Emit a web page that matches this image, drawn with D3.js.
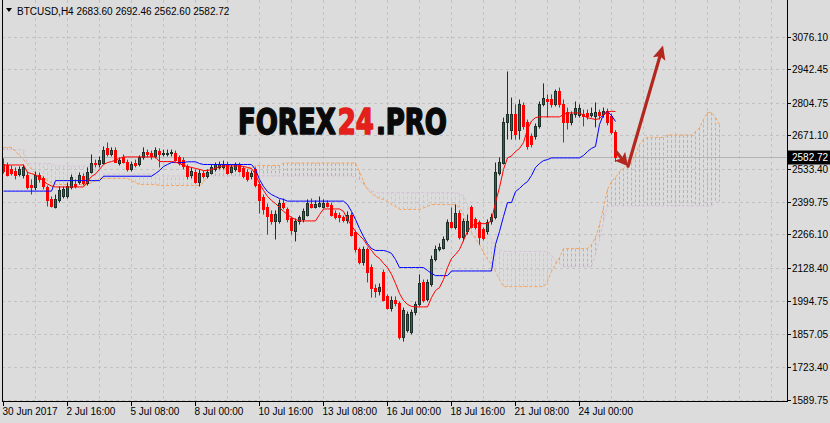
<!DOCTYPE html>
<html><head><meta charset="utf-8">
<script src="https://cdn.jsdelivr.net/npm/d3@7"></script>
<style>html,body{margin:0;padding:0;background:#dcdcdc;}svg{display:block;}</style>
</head><body>
<svg id="chart" width="830" height="423"></svg>
<script>
// ---------- data (BTCUSD, H4) ----------
const symbolTitle = "BTCUSD,H4";
const lastBar = [2683.60, 2692.46, 2562.60, 2582.72];
const lastPrice = 2582.72;
const timeLabels = ["30 Jun 2017","2 Jul 16:00","5 Jul 08:00","8 Jul 00:00","10 Jul 16:00","13 Jul 08:00","16 Jul 00:00","18 Jul 16:00","21 Jul 08:00","24 Jul 00:00"];
const timeLabelBars = [0,16,32,48,64,80,96,112,128,144];
const priceTicks = [3076.10,2942.45,2804.75,2671.10,2533.40,2399.75,2266.10,2128.40,1994.75,1857.05,1723.40,1589.75];
const watermarkParts = ["FOREX", "24", ".PRO"];

const open = [
2556,2548,2532,2527,2515,2507,2511,2470,2458,2507,
2495,2458,2409,2380,2405,2425,2425,2458,2474,2482,
2503,2478,2523,2560,2552,2560,2618,2597,2613,2560,
2581,2564,2532,2560,2552,2581,2605,2601,2585,2609,
2593,2597,2601,2601,2581,2572,2544,2507,2523,2482,
2519,2503,2519,2532,2540,2540,2556,2523,2532,2552,
2536,2523,2503,2532,2474,2417,2380,2351,2319,2319,
2396,2368,2331,2278,2319,2327,2347,2392,2380,2384,
2380,2396,2388,2355,2347,2335,2323,2347,2274,2204,
2151,2204,2134,2048,2032,2110,2012,1966,1999,1983,
1844,1876,1868,1946,1979,2069,2003,2061,2163,2208,
2212,2245,2315,2298,2355,2257,2278,2376,2327,2315,
2286,2278,2319,2335,2519,2560,2728,2695,2757,2695,
2794,2724,2667,2667,2708,2798,2822,2822,2798,2851,
2798,2765,2724,2757,2753,2757,2761,2753,2749,2765,
2757,2773,2749,2683.60];
const high = [
2577,2560,2548,2540,2544,2552,2523,2491,2523,2519,
2503,2466,2421,2429,2462,2462,2478,2511,2491,2519,
2515,2540,2593,2572,2585,2626,2642,2622,2622,2581,
2593,2572,2564,2572,2589,2622,2613,2609,2622,2618,
2613,2613,2613,2609,2589,2581,2552,2540,2532,2532,
2527,2532,2552,2560,2564,2568,2564,2552,2560,2560,
2544,2532,2527,2540,2482,2429,2392,2364,2364,2409,
2413,2376,2339,2331,2343,2372,2409,2413,2405,2421,
2409,2405,2396,2364,2355,2343,2360,2355,2282,2212,
2216,2212,2143,2061,2065,2122,2020,2012,2012,1991,
1966,1950,1958,1991,2102,2081,2081,2179,2220,2229,
2257,2327,2376,2388,2364,2331,2347,2384,2335,2323,
2294,2327,2351,2560,2581,2744,2933,2826,2798,2818,
2806,2736,2679,2720,2810,2884,2839,2839,2859,2867,
2818,2785,2769,2810,2798,2777,2777,2785,2806,2777,
2785,2781,2761,2692.46];
const low = [
2515,2503,2507,2491,2503,2495,2450,2429,2446,2478,
2450,2380,2376,2372,2396,2413,2413,2450,2454,2470,
2466,2466,2515,2540,2540,2552,2585,2585,2560,2548,
2556,2523,2523,2540,2544,2572,2581,2572,2577,2540,
2585,2585,2585,2564,2548,2532,2491,2495,2474,2462,
2495,2495,2511,2523,2532,2532,2511,2515,2523,2519,
2495,2482,2491,2458,2351,2347,2265,2306,2245,2310,
2368,2315,2265,2237,2306,2315,2339,2372,2372,2376,
2372,2376,2339,2327,2315,2315,2310,2257,2192,2143,
2138,2069,2007,2007,2016,1991,1958,1950,1971,1835,
1827,1864,1856,1934,1971,1987,1991,2052,2155,2196,
2204,2237,2290,2286,2245,2237,2265,2290,2286,2224,
2241,2265,2306,2327,2507,2552,2654,2654,2654,2654,
2695,2613,2622,2654,2699,2790,2744,2785,2790,2785,
2642,2695,2712,2744,2744,2708,2736,2744,2704,2736,
2744,2712,2675,2562.60];
const close = [
2527,2511,2519,2511,2532,2540,2458,2458,2511,2491,
2462,2405,2384,2409,2446,2450,2466,2499,2466,2507,
2478,2523,2560,2552,2572,2613,2593,2613,2564,2572,
2564,2532,2556,2548,2581,2605,2593,2585,2613,2593,
2601,2601,2605,2572,2560,2544,2503,2527,2482,2519,
2503,2523,2540,2552,2552,2556,2519,2540,2552,2527,
2503,2491,2519,2470,2405,2368,2343,2319,2351,2396,
2376,2327,2282,2319,2335,2360,2396,2380,2392,2396,
2396,2384,2347,2339,2335,2323,2347,2265,2204,2151,
2204,2110,2048,2032,2052,1999,1966,1999,1983,1844,
1958,1938,1946,1979,2065,1999,2069,2167,2208,2216,
2245,2315,2298,2355,2257,2319,2319,2298,2298,2257,
2253,2315,2339,2523,2564,2728,2757,2757,2675,2798,
2708,2626,2634,2708,2798,2826,2814,2798,2851,2798,
2728,2724,2757,2785,2785,2749,2749,2761,2765,2753,
2773,2728,2687,2582.72];

// Ichimoku lines
const tenkan = [
2550,2550,2550,2550,2550,2550,2519,2515,2509,2499,
2484,2472,2464,2460,2460,2460,2460,2460,2460,2460,
2460,2482,2503,2513,2532,2552,2560,2564,2570,2577,
2583,2583,2583,2583,2583,2583,2583,2583,2583,2564,
2564,2564,2564,2562,2556,2548,2544,2540,2536,2532,
2527,2527,2532,2536,2544,2546,2546,2546,2546,2546,
2544,2540,2536,2511,2474,2446,2421,2405,2392,2376,
2360,2347,2335,2327,2321,2321,2321,2321,2321,2347,
2370,2370,2370,2370,2370,2360,2327,2302,2278,2261,
2245,2220,2200,2179,2167,2147,2130,2102,2065,2024,
1995,1979,1971,1969,1969,1969,1969,2007,2036,2048,
2081,2130,2167,2184,2204,2241,2278,2298,2310,2310,
2310,2310,2323,2396,2458,2532,2579,2587,2605,2618,
2642,2695,2730,2744,2747,2747,2747,2747,2747,2747,
2757,2763,2763,2763,2763,2753,2743,2740,2736,2740,
2757,2766,2770,2769];
const kijun = [
2443,2443,2443,2443,2443,2443,2443,2443,2443,2443,
2443,2443,2443,2486,2486,2486,2486,2486,2486,2486,
2486,2486,2486,2486,2486,2504,2504,2504,2504,2504,
2504,2504,2504,2504,2504,2504,2504,2504,2515,2527,
2544,2552,2560,2560,2560,2560,2563,2563,2563,2556,
2552,2552,2552,2552,2552,2552,2552,2552,2552,2552,
2552,2552,2552,2531,2491,2462,2441,2429,2421,2413,
2409,2402,2402,2402,2402,2402,2402,2402,2402,2402,
2402,2402,2402,2402,2402,2402,2388,2360,2327,2290,
2257,2228,2208,2200,2200,2200,2196,2188,2163,2130,
2130,2130,2130,2130,2130,2130,2118,2106,2097,2097,
2097,2097,2116,2116,2116,2116,2116,2116,2116,2116,
2116,2116,2116,2224,2278,2339,2396,2396,2441,2454,
2470,2482,2507,2540,2556,2568,2572,2579,2579,2579,
2579,2579,2579,2579,2579,2589,2605,2618,2626,2716,
2757,2769,2753,2728];
// Senkou spans, already shifted 26 bars forward (bars 0..179)
const spanA = [
2622,2622,2622,2605,2589,2572,2552,2532,2515,2503,
2495,2486,2478,2470,2470,2470,2470,2470,2470,2470,
2470,2470,2478,2484,2495,2495,2495,2495,2495,2495,
2495,2495,2486,2478,2470,2470,2470,2470,2470,2466,
2466,2466,2466,2466,2466,2466,2466,2466,2466,2466,
2478,2507,2527,2536,2536,2536,2536,2536,2536,2536,
2536,2536,2536,2548,2548,2548,2548,2548,2548,2548,
2558,2558,2558,2558,2558,2558,2558,2558,2558,2558,
2558,2558,2558,2558,2558,2558,2558,2558,2558,2523,
2482,2450,2433,2421,2413,2409,2401,2388,2380,2368,
2368,2368,2368,2368,2368,2374,2380,2388,2388,2388,
2388,2388,2388,2388,2376,2347,2302,2274,2249,2224,
2192,2163,2143,2114,2081,2052,2052,2052,2052,2052,
2052,2052,2052,2052,2052,2052,2073,2114,2143,2171,
2208,2208,2208,2208,2208,2208,2208,2224,2253,2306,
2376,2450,2482,2499,2523,2536,2544,2560,2593,2634,
2654,2663,2663,2663,2663,2663,2673,2673,2673,2673,
2673,2673,2673,2687,2703,2736,2765,2765,2744,2716];
const spanB = [
2613,2613,2613,2613,2613,2613,2556,2556,2556,2556,
2556,2556,2556,2546,2546,2546,2546,2546,2546,2546,
2546,2546,2546,2546,2546,2513,2513,2513,2513,2513,
2513,2513,2513,2513,2513,2513,2513,2513,2513,2505,
2505,2505,2505,2505,2505,2505,2505,2505,2505,2505,
2505,2505,2505,2505,2505,2505,2505,2505,2505,2505,
2505,2505,2505,2505,2505,2505,2505,2505,2505,2505,
2505,2505,2505,2505,2505,2505,2505,2505,2505,2505,
2505,2505,2505,2505,2505,2505,2505,2505,2499,2486,
2470,2454,2445,2437,2437,2437,2437,2437,2437,2437,
2437,2437,2437,2437,2437,2437,2437,2437,2437,2437,
2437,2437,2437,2437,2433,2425,2388,2347,2306,2278,
2274,2269,2245,2220,2204,2196,2196,2196,2196,2196,
2196,2196,2196,2196,2196,2196,2196,2179,2163,2147,
2134,2134,2134,2134,2134,2134,2134,2134,2184,2245,
2319,2380,2382,2382,2382,2382,2382,2382,2382,2382,
2382,2382,2382,2382,2382,2382,2382,2382,2382,2382,
2382,2382,2382,2382,2382,2382,2382,2382,2396,2401];

// forecast arrows (bar index, price)
const arrowDown = [[153.25, 2605], [156.25, 2545]];
const arrowUp = [[156.25, 2545], [165, 3039]];

// ---------- drawing ----------
const svg = d3.select("#chart");
const L = 2, R = 787, T = 0, B = 401;
const x = d3.scaleLinear().domain([-0.25, 196]).range([L, R]);
const y = d3.scaleLinear().domain([1589.75, 3076.10]).range([399.5, 36.5]);
const FONT = "'Liberation Sans', Arial, sans-serif";

svg.append("rect").attr("width", 830).attr("height", 423).attr("fill", "#dcdcdc");
svg.append("defs").append("clipPath").attr("id", "clip")
  .append("rect").attr("x", L + 1).attr("y", T).attr("width", R - L - 1).attr("height", B - T);

const g = svg.append("g").attr("clip-path", "url(#clip)");

// grid
const gridColor = "#c2c2c2";
priceTicks.forEach(t => {
  const yy = Math.round(y(t)) + 0.5;
  g.append("line").attr("x1", L).attr("x2", R).attr("y1", yy).attr("y2", yy)
    .attr("stroke", gridColor).attr("stroke-dasharray", "3,3");
});
for (let b = 8; x(b) < R; b += 8) {
  const xx = Math.round(x(b)) + 0.5;
  g.append("line").attr("x1", xx).attr("x2", xx).attr("y1", T).attr("y2", B)
    .attr("stroke", gridColor).attr("stroke-dasharray", "3,3");
}

// current price line
const yLast = Math.round(y(lastPrice)) + 0.5;
g.append("line").attr("x1", L).attr("x2", R).attr("y1", yLast).attr("y2", yLast)
  .attr("stroke", "#b4b4b4");

// cloud
const orange = "#f4a460", thistle = "#d8bfd8";
const cloudIdx = d3.range(spanA.length);
g.append("g").selectAll("line").data(cloudIdx).join("line")
  .attr("x1", i => Math.round(x(i)) + 0.5).attr("x2", i => Math.round(x(i)) + 0.5)
  .attr("y1", i => y(spanA[i])).attr("y2", i => y(spanB[i]))
  .attr("stroke", i => spanA[i] >= spanB[i] ? orange : thistle)
  .attr("stroke-dasharray", "3,2");
const line = d3.line().x((d, i) => Math.round(x(i)) + 0.5).y(d => y(d));
g.append("path").attr("d", line(spanB)).attr("fill", "none").attr("stroke", thistle).attr("stroke-dasharray", "3,2");
g.append("path").attr("d", line(spanA)).attr("fill", "none").attr("stroke", orange).attr("stroke-dasharray", "3,2");

// candles
const bars = d3.range(open.length);
const bull = i => close[i] >= open[i];
const cg = g.append("g");
cg.selectAll("line").data(bars).join("line")
  .attr("x1", i => Math.round(x(i)) + 0.5).attr("x2", i => Math.round(x(i)) + 0.5)
  .attr("y1", i => y(high[i])).attr("y2", i => y(low[i]))
  .attr("stroke", i => bull(i) ? "#1c3029" : "#ff0000");
cg.selectAll("rect").data(bars).join("rect")
  .attr("x", i => Math.round(x(i)) - 0.5)
  .attr("width", 2)
  .attr("y", i => Math.round(y(Math.max(open[i], close[i]))) + 0.5)
  .attr("height", i => Math.max(1, Math.round(y(Math.min(open[i], close[i]))) - Math.round(y(Math.max(open[i], close[i])))))
  .attr("fill", i => bull(i) ? "#2f6550" : "#ff0000")
  .attr("stroke", i => bull(i) ? "#1c3029" : "#ff0000");

// tenkan / kijun
g.append("path").attr("d", line(kijun)).attr("fill", "none").attr("stroke", "#0000ff");
g.append("path").attr("d", line(tenkan)).attr("fill", "none").attr("stroke", "#ff0000");

// watermark: fitted to x 238..447 by shrinking the font width-wise and stretching vertically
const wmC = ["#0a0a0a", "#e3201b", "#0a0a0a"];
const wmBase = 35, wmWidth = 209;
const wmG = svg.append("g");
const probe = watermarkParts.map(s => wmG.append("text")
  .attr("font-family", "'DejaVu Sans', Verdana, sans-serif").attr("font-weight", "bold")
  .attr("font-size", wmBase).text(s));
const natTotal = d3.sum(probe, t => t.node().getComputedTextLength());
probe.forEach(t => t.remove());
const fs = wmBase * (wmWidth - 4) / natTotal;
wmG.attr("transform", `translate(238,134) scale(1,${wmBase / fs})`);
let cx = 0;
watermarkParts.forEach((s, k) => {
  const t = wmG.append("text").attr("x", cx).attr("y", 0)
    .attr("font-family", "'DejaVu Sans', Verdana, sans-serif").attr("font-weight", "bold")
    .attr("font-size", fs)
    .attr("fill", wmC[k]).attr("stroke", wmC[k]).attr("stroke-width", 1.3).attr("stroke-linejoin", "round")
    .text(s);
  cx += t.node().getComputedTextLength() + 2;
});

// arrows
function arrow(pts, headLen, headHalf) {
  const [x0, y0] = [x(pts[0][0]), y(pts[0][1])];
  const [x1, y1] = [x(pts[1][0]), y(pts[1][1])];
  const dx = x1 - x0, dy = y1 - y0, len = Math.hypot(dx, dy);
  const ux = dx / len, uy = dy / len;
  const bx = x1 - ux * headLen, by = y1 - uy * headLen;
  svg.append("line").attr("x1", x0).attr("y1", y0).attr("x2", bx + ux * 2).attr("y2", by + uy * 2)
    .attr("stroke", "#b3271e").attr("stroke-width", 3.2).attr("stroke-linecap", "round");
  svg.append("path")
    .attr("d", `M${x1},${y1}L${bx - uy * headHalf},${by + ux * headHalf}L${bx + ux * 3},${by + uy * 3}L${bx + uy * headHalf},${by - ux * headHalf}Z`)
    .attr("fill", "#b3271e");
}
arrow(arrowDown, 13, 7);
arrow(arrowUp, 14, 6.5);

// frame
svg.append("line").attr("x1", L + 0.5).attr("x2", L + 0.5).attr("y1", T).attr("y2", B + 1).attr("stroke", "#000");
svg.append("line").attr("x1", R + 0.5).attr("x2", R + 0.5).attr("y1", T).attr("y2", B + 1).attr("stroke", "#000");
svg.append("line").attr("x1", L).attr("x2", R + 1).attr("y1", B + 0.5).attr("y2", B + 0.5).attr("stroke", "#000");

// right price axis
priceTicks.forEach(t => {
  const yy = Math.round(y(t)) + 0.5;
  svg.append("line").attr("x1", R).attr("x2", R + 4).attr("y1", yy).attr("y2", yy).attr("stroke", "#000");
  svg.append("text").attr("x", 792).attr("y", yy + 3.5).attr("font-family", FONT).attr("font-size", 10)
    .attr("fill", "#000").text(t.toFixed(2));
});
svg.append("rect").attr("x", 788).attr("y", yLast - 7).attr("width", 42).attr("height", 14).attr("fill", "#000");
svg.append("text").attr("x", 792).attr("y", yLast + 3.5).attr("font-family", FONT).attr("font-size", 10)
  .attr("fill", "#fff").text(lastPrice.toFixed(2));

// time axis
timeLabels.forEach((lab, k) => {
  const xx = Math.round(x(timeLabelBars[k])) + 0.5;
  svg.append("line").attr("x1", xx).attr("x2", xx).attr("y1", B).attr("y2", B + 5).attr("stroke", "#000");
  svg.append("text").attr("x", xx - 1).attr("y", 415).attr("font-family", FONT).attr("font-size", 10)
    .attr("fill", "#000").text(lab);
});

// title
svg.append("path").attr("d", "M6,8L12,8L9,12Z").attr("fill", "#000");
svg.append("text").attr("x", 17).attr("y", 15).attr("font-family", FONT).attr("font-size", 10).attr("fill", "#000")
  .text(symbolTitle + "  " + lastBar.map(v => v.toFixed(2)).join(" "));
</script>
</body></html>
